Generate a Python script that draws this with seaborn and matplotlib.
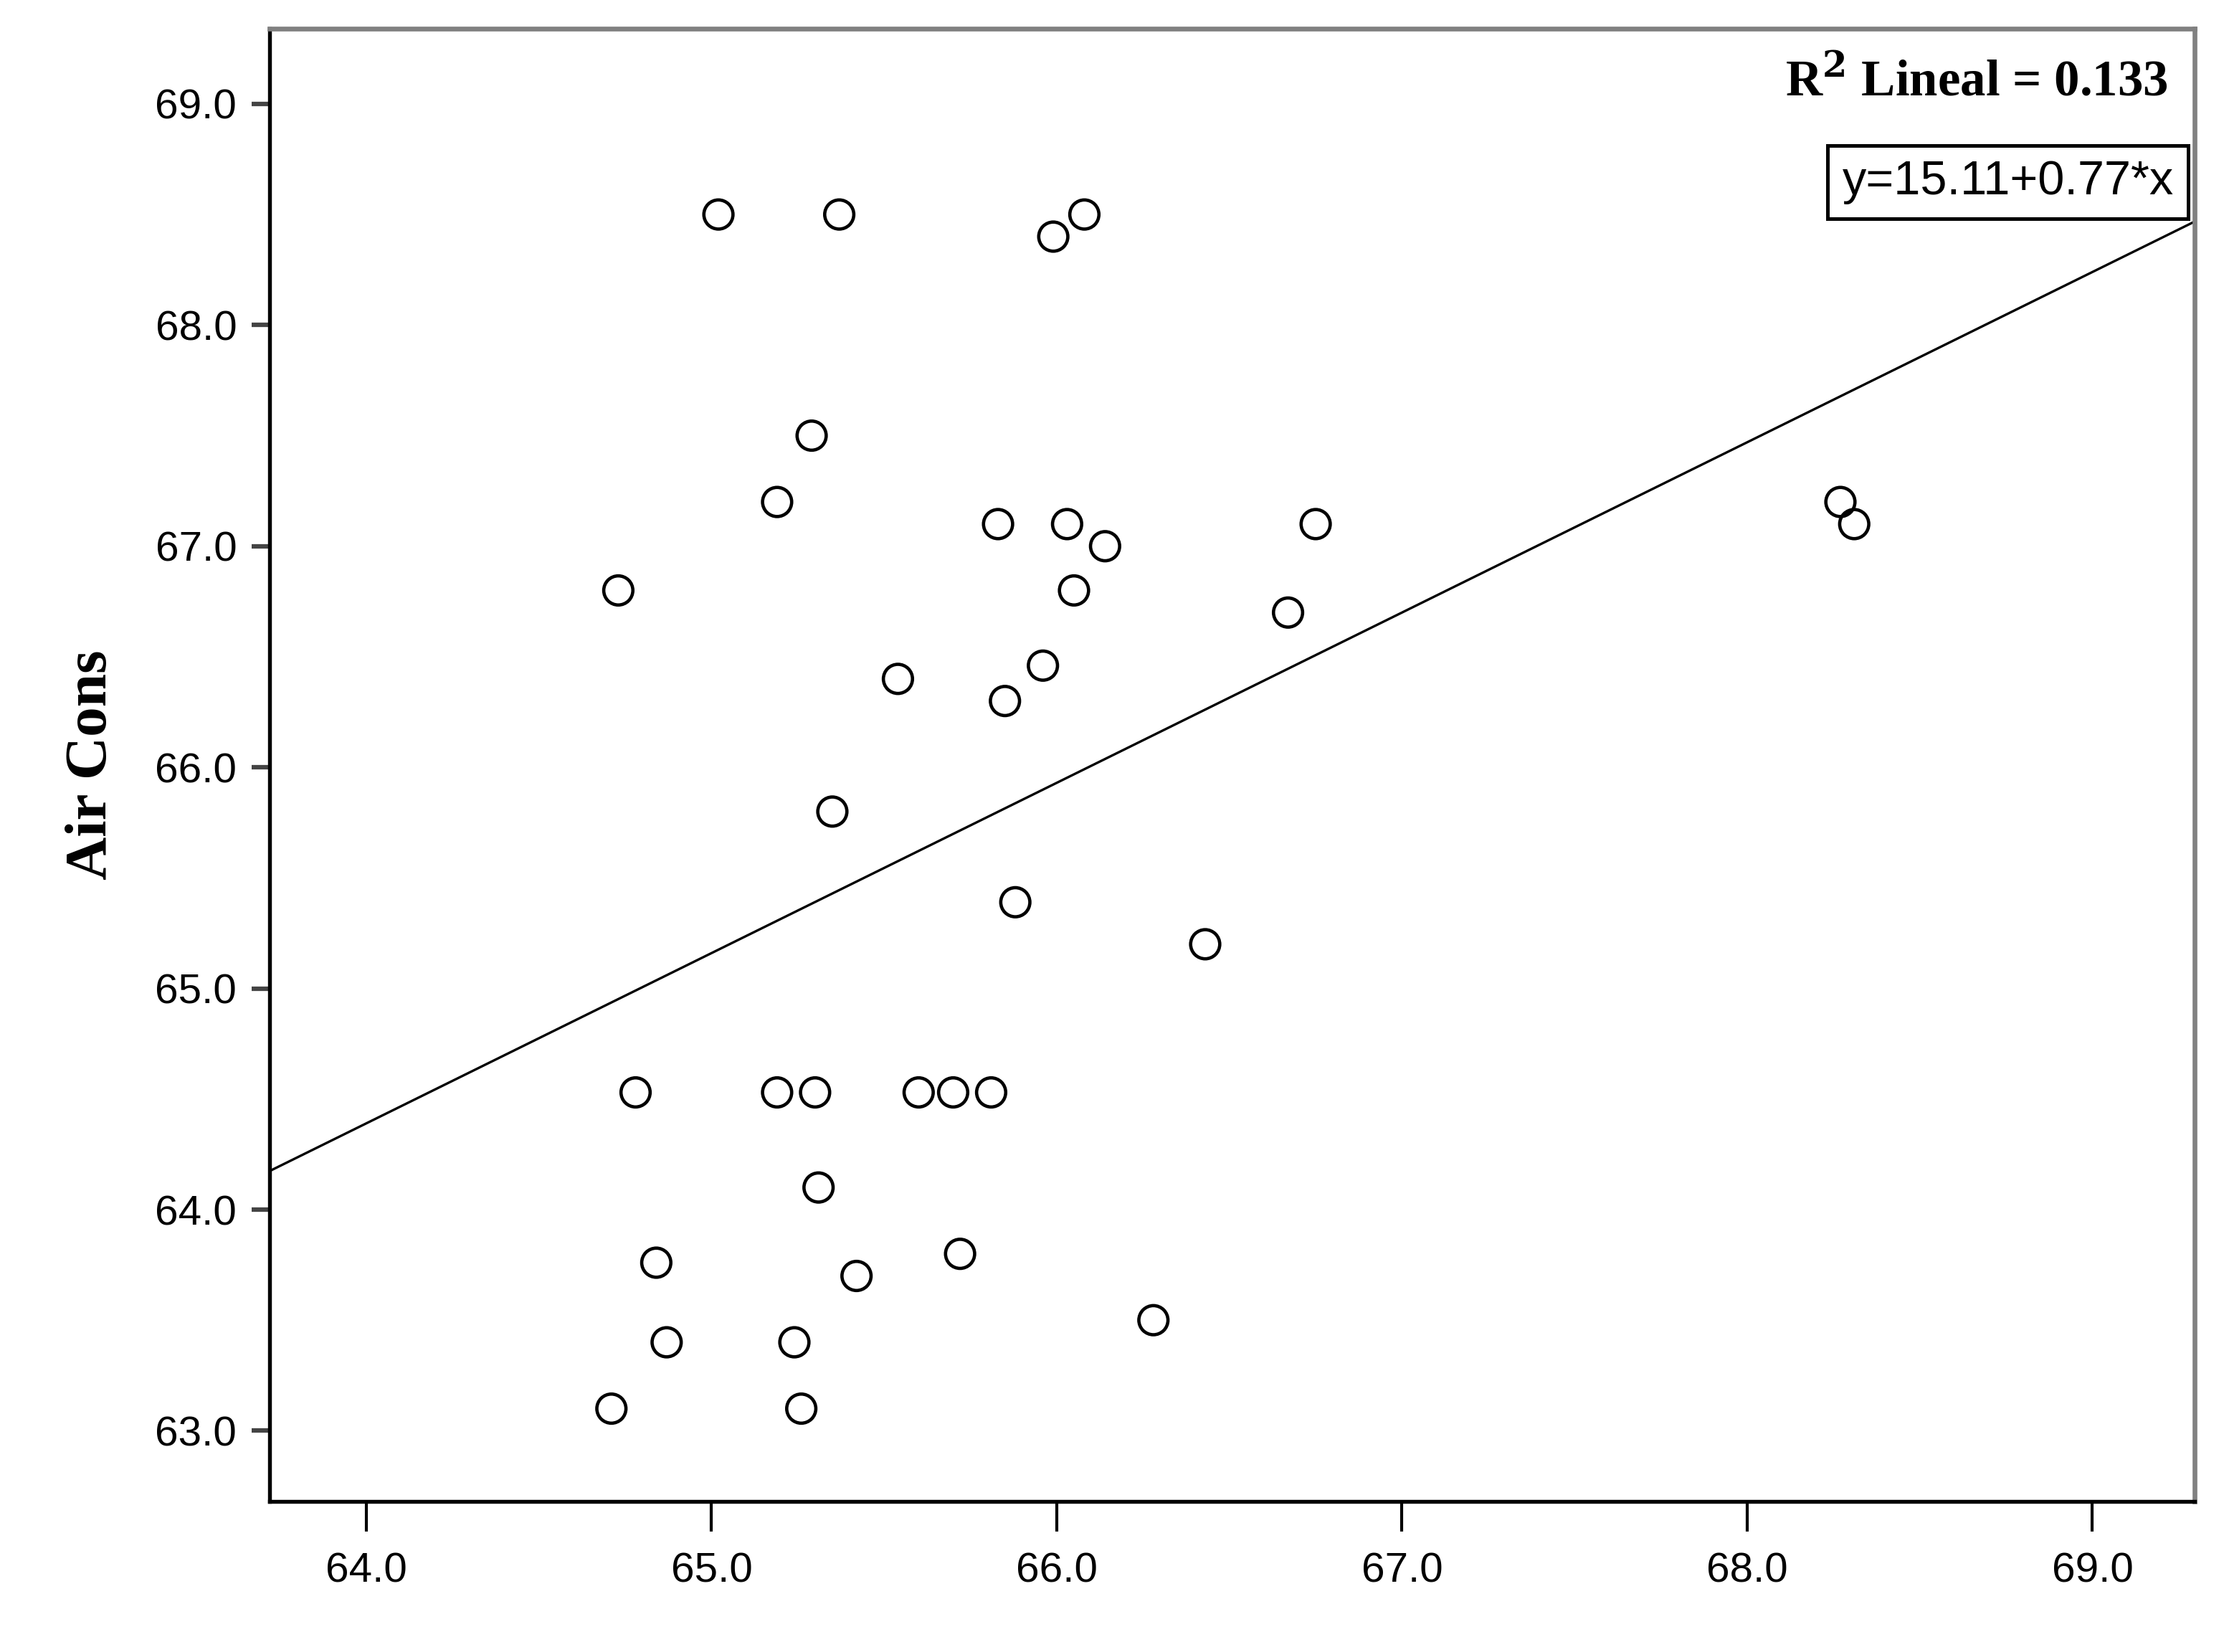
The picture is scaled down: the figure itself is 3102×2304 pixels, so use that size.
import numpy as np
import pandas as pd
import matplotlib.pyplot as plt
import seaborn as sns

# values
x_vals = [65.02, 65.37, 65.99, 66.08, 65.29, 65.19, 64.73, 65.83, 66.03, 66.14,
          66.05, 66.75, 66.67, 68.27, 68.31, 65.54, 65.96, 65.85, 65.35, 65.88,
          66.43, 64.78, 65.19, 65.30, 65.60, 65.70, 65.81, 65.31, 64.84, 65.72,
          65.42, 66.28, 64.87, 65.24, 64.71, 65.26]
y_vals = [68.50, 68.50, 68.40, 68.50, 67.50, 67.20, 66.80, 67.10, 67.10, 67.00,
          66.80, 67.10, 66.70, 67.20, 67.10, 66.40, 66.46, 66.30, 65.80, 65.39,
          65.20, 64.53, 64.53, 64.53, 64.53, 64.53, 64.53, 64.10, 63.76, 63.80,
          63.70, 63.50, 63.40, 63.40, 63.10, 63.10]
intercept = 15.11
slope = 0.77
r2 = 0.133
ticks = [64.0, 65.0, 66.0, 67.0, 68.0, 69.0]
yticks = [63.0, 64.0, 65.0, 66.0, 67.0, 68.0, 69.0]

df = pd.DataFrame({'x': x_vals, 'y': y_vals})

sns.set_style('white')
narrow = ['Liberation Sans Narrow', 'Liberation Sans', 'DejaVu Sans']
serif = ['Liberation Serif', 'DejaVu Serif']

fig = plt.figure(figsize=(10.343, 7.68), dpi=300)
ax = fig.add_axes([0.1212, 0.0911, 0.8653, 0.8915])

sns.scatterplot(data=df, x='x', y='y', ax=ax, marker='o', s=95,
                facecolor='none', edgecolor='black', linewidth=1.1)

xlim = (63.72, 69.296)
ylim = (62.68, 69.34)
line = pd.DataFrame({'x': list(xlim)})
line['y'] = intercept + slope * line['x']
sns.lineplot(data=line, x='x', y='y', ax=ax, color='black', linewidth=0.8)

ax.set_xlim(*xlim)
ax.set_ylim(*ylim)
ax.set_xticks(ticks)
ax.set_yticks(yticks)
ax.set_xticklabels([f'{t:.1f}' for t in ticks], family=narrow, fontsize=14, color='black')
ax.set_yticklabels([f'{t:.1f}' for t in yticks], family=narrow, fontsize=14, color='black')
ax.tick_params(axis='x', direction='out', length=10, width=1.0, color='black', pad=7, bottom=True)
ax.tick_params(axis='y', direction='out', length=6, width=1.5, color='#444444', pad=5, left=True)

ax.set_xlabel('')
ax.set_ylabel('Air Cons', family=serif, fontweight='bold', fontsize=20, labelpad=12, color='black')

for side in ['left', 'bottom']:
    ax.spines[side].set_color('black')
    ax.spines[side].set_linewidth(1.3)
for side in ['top', 'right']:
    ax.spines[side].set_color('#808080')
    ax.spines[side].set_linewidth(1.6)

ax.text(0.986, 0.964, r'R$^\mathbf{2}$ Lineal = ' + f'{r2:.3f}', transform=ax.transAxes,
        ha='right', va='center', fontsize=17, fontweight='bold', family=serif,
        math_fontfamily='dejavuserif', color='black')
ax.text(0.903, 0.896, f'y={intercept:.2f}+{slope:.2f}*x', transform=ax.transAxes,
        ha='center', va='center', fontsize=16, family=narrow, color='black',
        bbox=dict(boxstyle='square,pad=0.3', facecolor='white', edgecolor='black', linewidth=1.2))

fig.savefig('out.png', dpi=300)
